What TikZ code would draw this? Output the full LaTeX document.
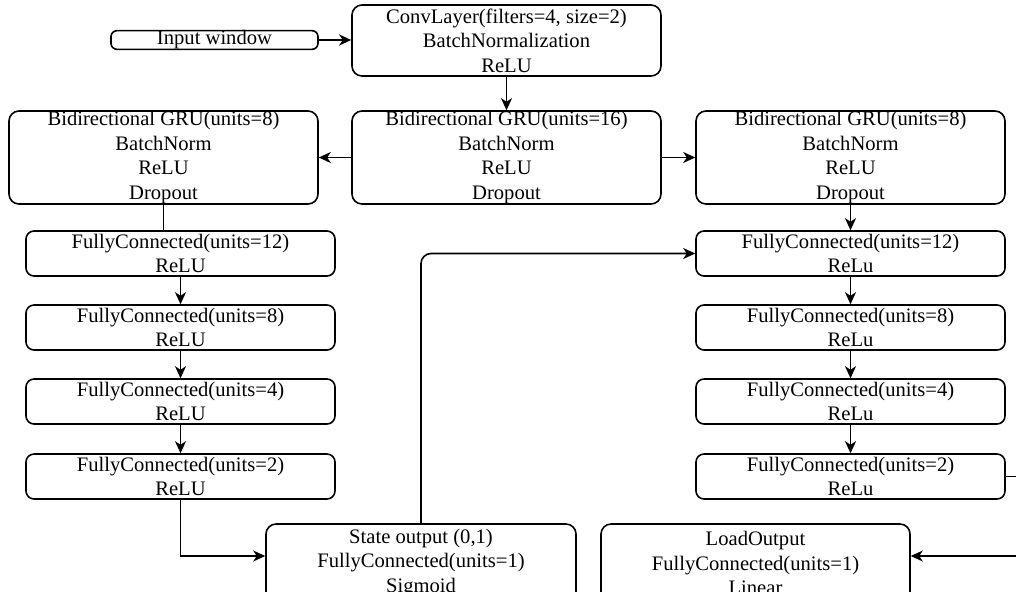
\documentclass[tikz,border=0pt]{standalone}
\usepackage{fontspec}
\setmainfont{Liberation Serif}
\usetikzlibrary{arrows.meta}
\begin{document}
\begin{tikzpicture}[x=0.5pt,y=-0.5pt,line width=0.8pt,
	box/.style={draw,rounded corners=5pt,align=center,inner sep=0pt,minimum width=154.5pt,font=\fontsize{10.3}{12.3}\selectfont},
	fcbox/.style={box,rounded corners=4pt,minimum height=22.5pt},
	grubox/.style={box,minimum height=46.5pt},
	arr/.style={-{Stealth[length=6pt,width=5.5pt,inset=1.8pt]}}]
					\useasboundingbox (0,0) rectangle (1016,591);
					\clip (0,0) rectangle (1016,591);
					% input and convolution
					\node[box,rounded corners=3pt,minimum width=103.5pt,minimum height=9pt] (inp) at (214.5,40) {Input window};
					\node[box,minimum height=35.5pt] (conv) at (506.5,40.5) {ConvLayer(filters=4, size=2)\\BatchNormalization\\ReLU};
					% recurrent layers
					\node[grubox] (gru16) at (506.5,157.5) {Bidirectional GRU(units=16)\\BatchNorm\\ReLU\\Dropout};
					\node[grubox] (gruL) at (163.5,157.5) {Bidirectional GRU(units=8)\\BatchNorm\\ReLU\\Dropout};
					\node[grubox] (gruR) at (850.5,157.5) {Bidirectional GRU(units=8)\\BatchNorm\\ReLU\\Dropout};
					% state branch
					\node[fcbox] (fcL12) at (180.5,253.5) {FullyConnected(units=12)\\ReLU};
					\node[fcbox] (fcL8) at (180.5,327.5) {FullyConnected(units=8)\\ReLU};
					\node[fcbox] (fcL4) at (180.5,401.5) {FullyConnected(units=4)\\ReLU};
					\node[fcbox] (fcL2) at (180.5,476.5) {FullyConnected(units=2)\\ReLU};
					% load branch
					\node[fcbox] (fcR12) at (850.5,253.5) {FullyConnected(units=12)\\ReLu};
					\node[fcbox] (fcR8) at (850.5,327.5) {FullyConnected(units=8)\\ReLu};
					\node[fcbox] (fcR4) at (850.5,401.5) {FullyConnected(units=4)\\ReLu};
					\node[fcbox] (fcR2) at (850.5,476.5) {FullyConnected(units=2)\\ReLu};
					% outputs
					\node[box,minimum width=155pt,minimum height=39pt] (state) at (421,563) {State output (0,1)\\FullyConnected(units=1)\\Sigmoid};
					\node[box,minimum height=39pt] (load) at (755.5,563) {LoadOutput\\FullyConnected(units=1)\\Linear};
					% connectors
					\draw[arr] (inp.east) -- (inp.east -| conv.west);
					\draw[arr] (conv) -- (gru16);
					\draw[arr] (gru16) -- (gruL);
					\draw[arr] (gru16) -- (gruR);
					\draw (gruL.south) -- (gruL.south |- fcL12.north);
					\draw[arr] (fcL12) -- (fcL8);
					\draw[arr] (fcL8) -- (fcL4);
					\draw[arr] (fcL4) -- (fcL2);
					\draw[arr] (fcL2.south) |- ([yshift=3.5pt]state.west);
					\draw[arr] (gruR) -- (fcR12);
					\draw[arr] (fcR12) -- (fcR8);
					\draw[arr] (fcR8) -- (fcR4);
					\draw[arr] (fcR4) -- (fcR2);
					\draw[arr,rounded corners=5pt] (state.north) |- (fcR12.west);
					\draw[arr] (fcR2.east) -- ++(25,0) |- ([yshift=3.5pt]load.east);
				\end{tikzpicture}
\end{document}
